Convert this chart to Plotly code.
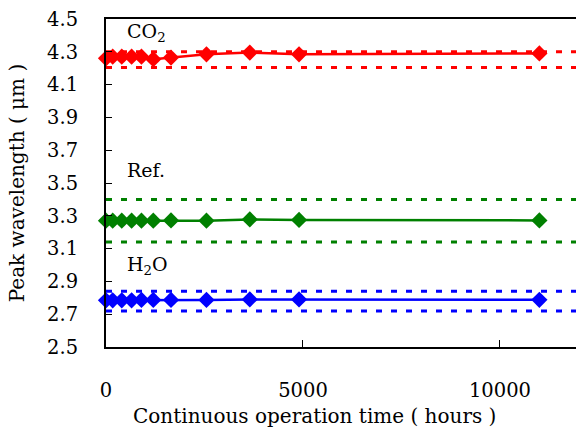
import plotly.graph_objects as go

# Data
hours = [0, 170, 400, 650, 900, 1200, 1650, 2550, 3650, 4900, 11000]
co2 = [4.26, 4.27, 4.27, 4.27, 4.27, 4.255, 4.265, 4.285, 4.295, 4.285, 4.29]
ref = [3.27, 3.27, 3.27, 3.27, 3.27, 3.27, 3.272, 3.27, 3.278, 3.275, 3.272]
h2o = [2.785, 2.785, 2.785, 2.785, 2.787, 2.787, 2.787, 2.787, 2.79, 2.79, 2.788]

co2_band = [4.30, 4.205]
ref_band = [3.40, 3.14]
h2o_band = [2.84, 2.72]

labels = ["CO<sub>2</sub>", "Ref.", "H<sub>2</sub>O"]
label_y = [4.42, 3.58, 3.0]

x_title = "Continuous operation time ( hours )"
y_title = "Peak wavelength ( μm )"

colors = ["#ff0000", "#008000", "#0000ff"]
x_range = [0, 11930]
y_ticks = [2.5, 2.7, 2.9, 3.1, 3.3, 3.5, 3.7, 3.9, 4.1, 4.3, 4.5]
x_ticks = [0, 5000, 10000]

FONT = "DejaVu Serif, serif"

fig = go.Figure()

for band, c in zip([co2_band, ref_band, h2o_band], colors):
    for yv in band:
        fig.add_trace(go.Scatter(x=[x_range[0], x_range[1]], y=[yv, yv], mode="lines",
                                 line=dict(color=c, width=3, dash="6px,9px"),
                                 hoverinfo="skip", showlegend=False, cliponaxis=False))

for series, c in zip([co2, ref, h2o], colors):
    fig.add_trace(go.Scatter(x=hours, y=series, mode="lines+markers",
                             line=dict(color=c, width=2.5),
                             marker=dict(symbol="diamond", size=12.5, color=c),
                             showlegend=False, cliponaxis=False))

for t, yv in zip(labels, label_y):
    fig.add_annotation(x=0.04, xref="paper", y=yv, yref="y", text=t, showarrow=False,
                       xanchor="left", yanchor="middle",
                       font=dict(family=FONT, size=19, color="black"))

# x-axis title, placed as in the reference (centred left of the plot middle)
fig.add_annotation(x=0.443, xref="paper", y=-0.21, yref="paper", text=x_title,
                   showarrow=False, xanchor="center", yanchor="middle",
                   font=dict(family=FONT, size=20, color="black"))

fig.update_layout(
    width=576, height=428,
    margin=dict(l=106, r=0, t=19, b=81),
    plot_bgcolor="white", paper_bgcolor="white",
    font=dict(family=FONT, size=19, color="black"),
)
fig.update_xaxes(range=x_range, tickvals=x_ticks, ticktext=[str(v) for v in x_ticks],
                 ticks="inside", ticklen=7, tickwidth=1,
                 tickcolor="black", showline=True, linecolor="black", linewidth=2,
                 mirror=True, showgrid=False, zeroline=False, ticklabelstandoff=25,
                 tickfont=dict(family=FONT, size=19.5))
fig.update_yaxes(range=[2.5, 4.5], tickvals=y_ticks, ticktext=[f"{v:.1f}" for v in y_ticks],
                 ticks="inside", ticklen=6, tickwidth=1,
                 tickcolor="black", showline=True, linecolor="black", linewidth=2,
                 showgrid=False, zeroline=False, ticklabelstandoff=22,
                 title=dict(text=y_title, standoff=17,
                            font=dict(family=FONT, size=20)),
                 tickfont=dict(family=FONT, size=19.5))

fig.write_html("out.html")
